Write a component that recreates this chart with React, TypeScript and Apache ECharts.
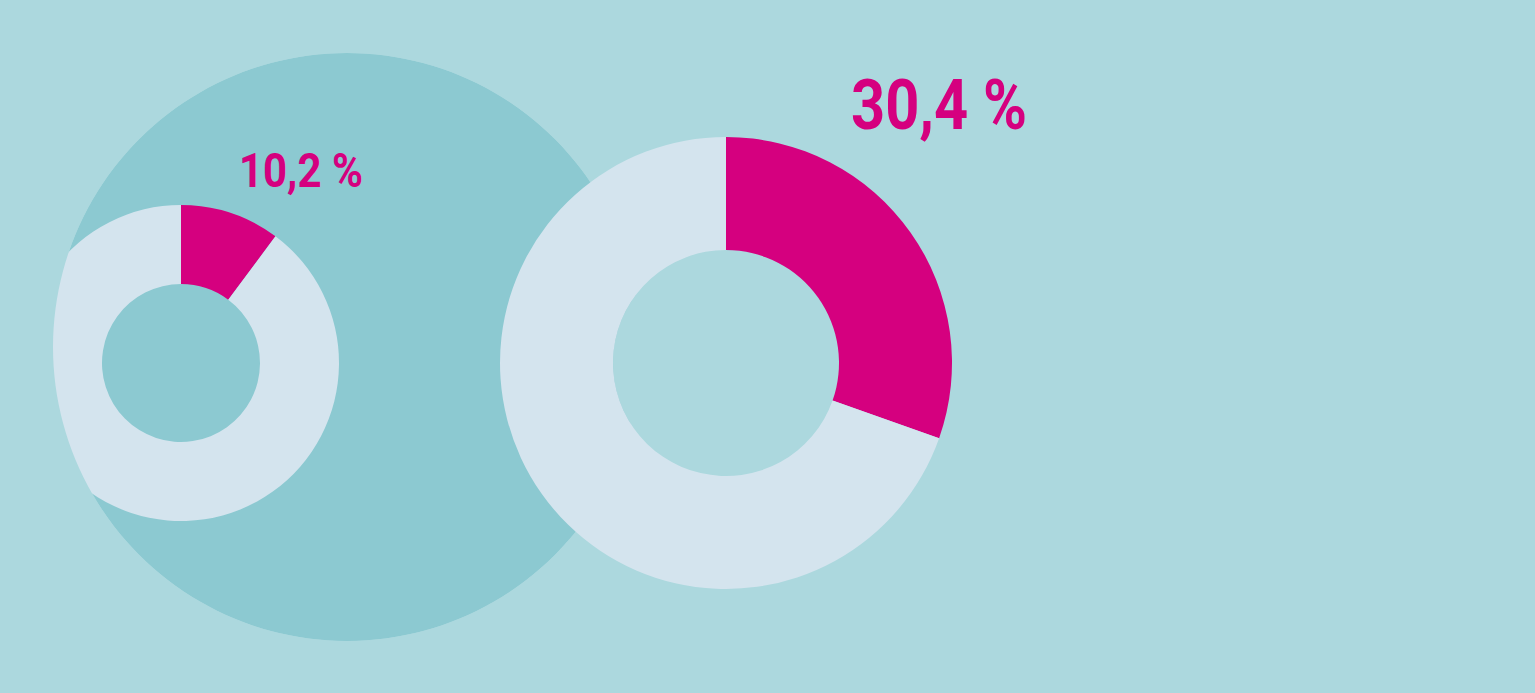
import React, { useEffect, useRef } from "react";
import * as echarts from "echarts";

const shares1 = [10.2, 89.8];
const shares2 = [30.4, 69.6];
const labels = ["10,2 %", "30,4 %"];

const BG = "#acd8de";
const BIG = "#8cc9d1";
const LIGHT = "#d4e4ee";
const MAGENTA = "#d5007f";
const FAMILY = "Roboto, 'DejaVu Sans Condensed', sans-serif";

function fitScale(text: string, font: string, target: number) {
  const c = document.createElement("canvas").getContext("2d");
  if (!c) return 1;
  c.font = font;
  const w = c.measureText(text).width;
  return w > 0 ? target / w : 1;
}

export default function App() {
  const ref = useRef<HTMLDivElement>(null);
  useEffect(() => {
    document.body.style.margin = "0";
    const chart = echarts.init(ref.current!, null, { renderer: "svg" });
    const toData = (v: number[]) =>
      v.map((value, i) => ({ value, itemStyle: { color: i === 0 ? MAGENTA : LIGHT } }));
    const f1 = `bold 49px ${FAMILY}`;
    const f2 = `bold 70px ${FAMILY}`;
    const s1 = fitScale(labels[0], f1, 124);
    const s2 = fitScale(labels[1], f2, 176);
    chart.setOption({
      animation: false,
      backgroundColor: BG,
      graphic: [
        { type: "circle", z: 0, silent: true, shape: { cx: 347, cy: 347, r: 294 }, style: { fill: BIG } },
        { type: "ring", z: 3, silent: true, shape: { cx: 347, cy: 347, r0: 294, r: 2000 }, style: { fill: BG } },
        { type: "circle", z: 3, silent: true, shape: { cx: 726, cy: 363, r: 113 }, style: { fill: BG } },
        {
          type: "text", z: 6, silent: true, x: 239, y: 170, scaleX: s1,
          style: { text: labels[0], fill: MAGENTA, font: f1, align: "left", verticalAlign: "middle" },
        },
        {
          type: "text", z: 6, silent: true, x: 851, y: 105, scaleX: s2,
          style: { text: labels[1], fill: MAGENTA, font: f2, align: "left", verticalAlign: "middle" },
        },
      ],
      series: [
        {
          type: "pie", z: 2, silent: true, center: [181, 363], radius: [79, 158],
          startAngle: 90, clockwise: true, label: { show: false }, labelLine: { show: false },
          emphasis: { disabled: true }, data: toData(shares1),
        },
        {
          type: "pie", z: 4, silent: true, center: [726, 363], radius: [113, 226],
          startAngle: 90, clockwise: true, label: { show: false }, labelLine: { show: false },
          emphasis: { disabled: true }, data: toData(shares2),
        },
      ],
    });
    return () => chart.dispose();
  }, []);
  return <div ref={ref} style={{ position: "fixed", left: 0, top: 0, width: 1535, height: 693 }} />;
}
